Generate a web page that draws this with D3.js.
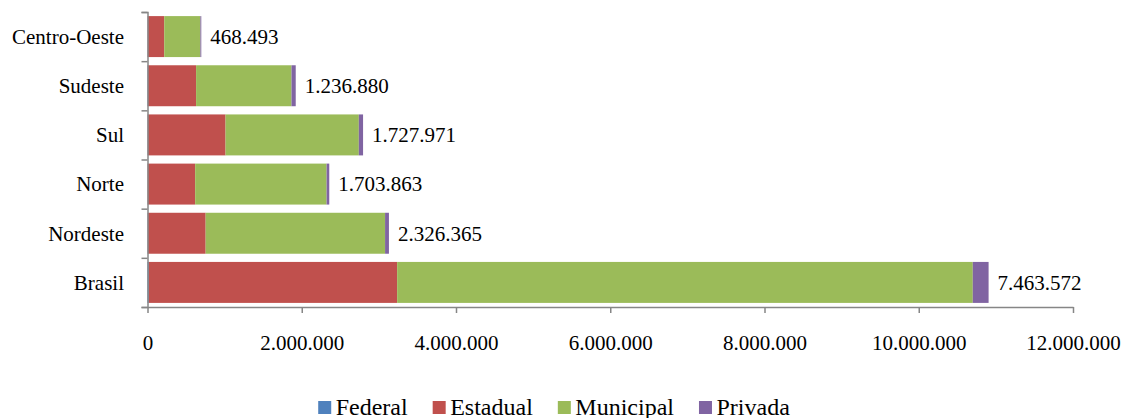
<!DOCTYPE html>
<html>
<head>
<meta charset="utf-8">
<script src="https://cdn.jsdelivr.net/npm/d3@7"></script>
<style>
  body { margin: 0; background: #fff; }
  svg text { font-family: "Liberation Serif", "Times New Roman", serif; fill: #000; }
</style>
</head>
<body>
<div id="chart"></div>
<script>
// dados -----------------------------------------------------------------------
const regioes   = ['Centro-Oeste', 'Sudeste', 'Sul', 'Norte', 'Nordeste', 'Brasil'];
const federal   = [3000, 5000, 3000, 2000, 4000, 17000];
const estadual  = [214000, 625000, 1009000, 616000, 750000, 3220000];
const municipal = [468493, 1236880, 1727971, 1703863, 2326365, 7463572];
const privada   = [12000, 55000, 55000, 35000, 50000, 205000];
const series    = ['Federal', 'Estadual', 'Municipal', 'Privada'];
const cores     = ['#4F81BD', '#C0504D', '#9BBB59', '#8064A2'];
const xTicks      = [0, 2e6, 4e6, 6e6, 8e6, 10e6, 12e6];
const xTickLabels = ['0', '2.000.000', '4.000.000', '6.000.000', '8.000.000', '10.000.000', '12.000.000'];

// tamanho ---------------------------------------------------------------------
const width = 1127, height = 418;
const margin = { top: 12, right: 54, bottom: 111, left: 147.5 };
const ptBR = d3.formatLocale({ decimal: ',', thousands: '.', grouping: [3], currency: ['R$', ''] });
const fmt = ptBR.format(',d');

const svg = d3.select('#chart').append('svg')
  .attr('width', width)
  .attr('height', height);

const table = regioes.map((r, i) => ({
  regiao: r, Federal: federal[i], Estadual: estadual[i], Municipal: municipal[i], Privada: privada[i]
}));
const stacked = d3.stack().keys(series)(table);

// escalas ---------------------------------------------------------------------
const x = d3.scaleLinear().domain([0, 12e6]).range([margin.left, width - margin.right]);
const y = d3.scaleBand().domain(regioes).range([margin.top, height - margin.bottom]);
const barH = y.bandwidth() / 1.2;
const off = (y.bandwidth() - barH) / 2;
const color = d3.scaleOrdinal().domain(series).range(cores);

// barras ----------------------------------------------------------------------
svg.append('g').selectAll('g')
  .data(stacked)
  .enter().append('g')
  .attr('fill', d => color(d.key))
  .selectAll('rect')
  .data(d => d)
  .enter().append('rect')
  .attr('x', d => x(d[0]))
  .attr('y', d => y(d.data.regiao) + off)
  .attr('width', d => Math.max(0, x(d[1]) - x(d[0])))
  .attr('height', barH);

// rótulos (valor municipal) -------------------------------------------------
const topo = stacked[stacked.length - 1];
svg.append('g').selectAll('text')
  .data(topo)
  .enter().append('text')
  .attr('x', d => x(d[1]) + 9)
  .attr('y', d => y(d.data.regiao) + y.bandwidth() / 2)
  .attr('dy', '0.35em')
  .attr('font-size', '21px')
  .text(d => fmt(d.data.Municipal));

// eixo y ----------------------------------------------------------------------
const yIdx = d3.scaleLinear().domain([0, regioes.length]).range([margin.top, height - margin.bottom]);
const gy = svg.append('g')
  .attr('transform', 'translate(' + margin.left + ',0)')
  .call(d3.axisLeft(yIdx).ticks(regioes.length).tickFormat('').tickSize(6).tickSizeOuter(6));
gy.selectAll('path, line').attr('stroke', '#868686').attr('stroke-width', 1.5);

svg.append('g').selectAll('text')
  .data(regioes)
  .enter().append('text')
  .attr('x', 124)
  .attr('y', d => y(d) + y.bandwidth() / 2)
  .attr('dy', '0.35em')
  .attr('text-anchor', 'end')
  .attr('font-size', '21px')
  .text(d => d);

// eixo x ----------------------------------------------------------------------
const gx = svg.append('g')
  .attr('transform', 'translate(0,' + (height - margin.bottom) + ')')
  .call(d3.axisBottom(x).tickValues(xTicks)
    .tickFormat((d, i) => xTickLabels[i]).tickSize(6).tickSizeOuter(0).tickPadding(22));
gx.selectAll('path, line').attr('stroke', '#868686').attr('stroke-width', 1.5);
gx.selectAll('text')
  .attr('font-size', '21px')
  .attr('font-family', '"Liberation Serif", "Times New Roman", serif')
  .attr('fill', '#000');

// legenda ---------------------------------------------------------------------
const leg = svg.append('g');
const items = leg.selectAll('g')
  .data(series)
  .enter().append('g');
items.append('rect')
  .attr('width', 13).attr('height', 13)
  .attr('y', 401)
  .attr('fill', d => color(d));
items.append('text')
  .attr('x', 17.5)
  .attr('y', 415)
  .attr('font-size', '24px')
  .text(d => d);
let cx = 0;
items.each(function () {
  const w = 17.5 + d3.select(this).select('text').node().getComputedTextLength();
  d3.select(this).attr('transform', 'translate(' + cx + ',0)');
  cx += w + 25;
});
const totalW = cx - 25;
leg.attr('transform', 'translate(' + (554 - totalW / 2) + ',0)');
</script>
</body>
</html>
